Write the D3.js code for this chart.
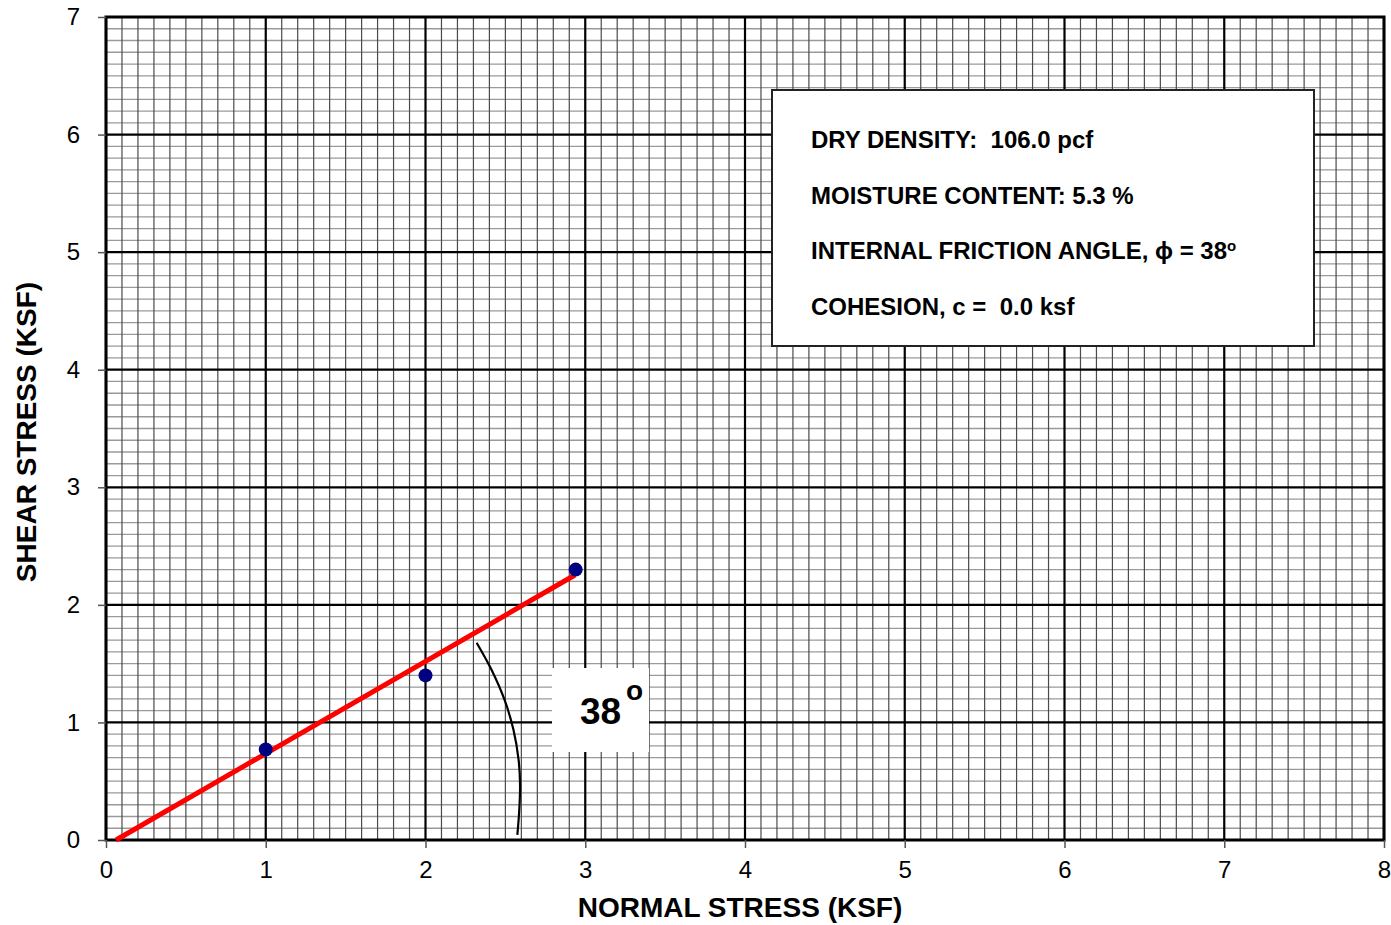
<!DOCTYPE html>
<html><head><meta charset="utf-8">
<script src="https://cdn.jsdelivr.net/npm/d3@7"></script>
<style>body{margin:0;background:#fff;} svg{display:block;font-family:"Liberation Sans",Arial,sans-serif;} text{white-space:pre;}</style>
</head><body>
<svg id="chart" width="1391" height="925"></svg>
<script>
// ---- data ----
const xTicks = [0,1,2,3,4,5,6,7,8];
const yTicks = [0,1,2,3,4,5,6,7];
const testNormal = [1.0, 2.0, 2.94];
const testShear  = [0.77, 1.40, 2.30];
const fitNormal = [0.063, 2.936];
const fitShear  = [0.0, 2.254];
const arcNormal = [2.320, 2.414, 2.495, 2.551, 2.583, 2.592, 2.587, 2.575];
const arcShear  = [1.678, 1.446, 1.191, 0.936, 0.680, 0.468, 0.255, 0.043];
const infoLines = [
  ["DRY DENSITY:  106.0 pcf", ""],
  ["MOISTURE CONTENT: 5.3 %", ""],
  ["INTERNAL FRICTION ANGLE, \u03d5 = 38", "o"],
  ["COHESION, c =  0.0 ksf", ""]
];
const angleLabel = "38";
const xTitle = "NORMAL STRESS (KSF)";
const yTitle = "SHEAR STRESS (KSF)";

// ---- layout ----
const svg = d3.select("#chart");
const m = {l:106, t:17, r:1391-1384, b:925-840};
const W = 1391 - m.l - m.r, H = 925 - m.t - m.b;
const x = d3.scaleLinear().domain([0,8]).range([0,W]);
const y = d3.scaleLinear().domain([0,7]).range([H,0]);
const g = svg.append("g").attr("transform",`translate(${m.l},${m.t})`);

// minor grid
const minorX = d3.range(0,80).map(i=>i/10).filter(v=>Math.abs(v-Math.round(v))>1e-6);
const minorY = d3.range(0,70).map(i=>i/10).filter(v=>Math.abs(v-Math.round(v))>1e-6);
g.append("g").selectAll("line").data(minorY).join("line")
  .attr("x1",0).attr("x2",W).attr("y1",d=>y(d)).attr("y2",d=>y(d))
  .attr("stroke","#9a9a9a").attr("stroke-width",1.3);
g.append("g").selectAll("line").data(minorX).join("line")
  .attr("y1",0).attr("y2",H).attr("x1",d=>x(d)).attr("x2",d=>x(d))
  .attr("stroke","#4a4a4a").attr("stroke-width",1.2);
// major grid
g.append("g").selectAll("line").data(yTicks).join("line")
  .attr("x1",0).attr("x2",W).attr("y1",d=>y(d)).attr("y2",d=>y(d))
  .attr("stroke","#000").attr("stroke-width",2.2);
g.append("g").selectAll("line").data(xTicks).join("line")
  .attr("y1",0).attr("y2",H).attr("x1",d=>x(d)).attr("x2",d=>x(d))
  .attr("stroke","#000").attr("stroke-width",2.2);
g.append("rect").attr("width",W).attr("height",H).attr("fill","none")
  .attr("stroke","#000").attr("stroke-width",3);

// axes
const xAxis = g.append("g").attr("transform",`translate(0,${H})`)
  .call(d3.axisBottom(x).tickValues(xTicks).tickFormat(d3.format("d")).tickSize(8).tickPadding(13));
const yAxis = g.append("g")
  .call(d3.axisLeft(y).tickValues(yTicks).tickFormat(d3.format("d")).tickSize(8).tickPadding(18));
[xAxis,yAxis].forEach(a=>{
  a.select(".domain").remove();
  a.attr("font-size",24).attr("font-family","'Liberation Sans',Arial,sans-serif");
  a.selectAll(".tick line").attr("stroke","#555").attr("stroke-width",1.5);
  a.selectAll(".tick text").style("font-size","24px").attr("fill","#000");
});

// info box
const bx = 772-m.l, by = 90-m.t, bw = 542, bh = 256;
g.append("rect").attr("x",bx).attr("y",by).attr("width",bw).attr("height",bh)
  .attr("fill","#fff").attr("stroke","#222").attr("stroke-width",2);
const it = g.append("g").selectAll("text").data(infoLines).join("text")
  .attr("x",bx+39).attr("y",(d,i)=>by+58+i*55.7)
  .attr("font-size",24).attr("font-weight","bold").attr("fill","#000");
it.append("tspan").text(d=>d[0]);
it.append("tspan").text(d=>d[1]).attr("font-size",15).attr("dy",-8);

// angle label box
const lb = g.append("g");
lb.append("rect").attr("x",552-m.l).attr("y",668-m.t).attr("width",97).attr("height",84).attr("fill","#fff");
lb.append("text").attr("x",580-m.l).attr("y",724-m.t).attr("font-size",37).attr("font-weight","bold").text(angleLabel);
lb.append("text").attr("x",626-m.l).attr("y",700-m.t).attr("font-size",28).attr("font-weight","bold").text("o");

// arc
const arcPts = arcNormal.map((v,i)=>[v,arcShear[i]]);
g.append("path").datum(arcPts)
  .attr("d",d3.line().x(d=>x(d[0])).y(d=>y(d[1])).curve(d3.curveCatmullRom.alpha(0.5)))
  .attr("fill","none").attr("stroke","#000").attr("stroke-width",2.2);

// fit line
const fitPts = fitNormal.map((v,i)=>[v,fitShear[i]]);
g.append("path").datum(fitPts)
  .attr("d",d3.line().x(d=>x(d[0])).y(d=>y(d[1])))
  .attr("fill","none").attr("stroke","#ff0000").attr("stroke-width",5);

// points
g.append("g").selectAll("circle").data(testNormal.map((v,i)=>[v,testShear[i]])).join("circle")
  .attr("cx",d=>x(d[0])).attr("cy",d=>y(d[1])).attr("r",7).attr("fill","#000080");

// titles
svg.append("text").attr("x",740).attr("y",917).attr("text-anchor","middle")
  .attr("font-size",28).attr("font-weight","bold").text(xTitle);
svg.append("text").attr("transform",`translate(36,432) rotate(-90)`)
  .attr("text-anchor","middle").attr("font-size",28).attr("font-weight","bold").text(yTitle);
</script>
</body></html>
